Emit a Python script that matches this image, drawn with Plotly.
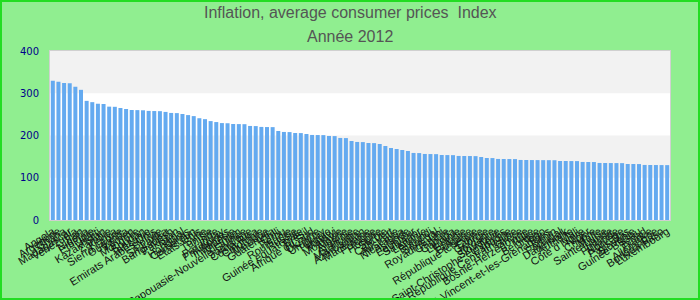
import plotly.graph_objects as go

countries = [
    "Angola", "Argentine", "Ghana", "Madagascar", "Venezuela", "Iran", "Nigeria", "Ethiopie", "Haïti", "Kazakhstan",
    "Zambie", "Kenya", "Sierra Leone", "Ouganda", "Yémen", "Mongolie", "Soudan", "Tanzanie", "Emirats Arabes Unis", "Bolivie",
    "Sri Lanka", "Bangladesh", "Pakistan", "Népal", "Honduras", "Cameroun", "Etats-Unis", "Syrie", "Tunisie", "Inde",
    "Paraguay", "Philippines", "Indonésie", "Vietnam", "Papouasie-Nouvelle-Guinée", "Jamaïque", "Costa Rica", "Colombie", "Mexique", "Guatemala",
    "Chili", "Pérou", "Roumanie", "Russie", "Guinée équatoriale", "Brésil", "Afrique du Sud", "Ukraine", "Uruguay", "Turquie",
    "Malawi", "Moldavie", "Algérie", "Arménie", "Mauritanie", "Azerbaïdjan", "Macédoine", "Pologne", "Hongrie", "Serbie",
    "Cap-Vert", "Australie", "Nicaragua", "Islande", "Equateur", "Salvador", "Lettonie", "Burundi", "Sénégal", "Royaume-Uni",
    "Gambie", "Canada", "Lituanie", "Estonie", "Bulgarie", "République tchèque", "Corée", "Géorgie", "Jordanie", "Slovaquie",
    "Saint-Christophe-et-Niévès", "Espagne", "République Centrafricaine", "Grèce", "Bosnie-Herzégovine", "Italie", "Belgique", "Togo", "Saint-Vincent-et-les-Grenadines", "Bénin",
    "Portugal", "Danemark", "Autriche", "Mali", "Côte d'Ivoire", "Niger", "Chypre", "Malte", "Sainte-Lucie", "Irlande",
    "Finlande", "Norvège", "Pays-Bas", "Slovénie", "Guinée-Bissau", "Tchad", "France", "Allemagne", "Burkina Faso", "Luxembourg",
]

values = [
    329.4, 327.1, 324.2, 323.8, 315.3, 308.1, 282.0, 278.9, 275.2, 274.6,
    268.3, 267.9, 265.1, 262.8, 260.4, 260.1, 259.7, 258.2, 257.9, 257.6,
    255.8, 253.4, 253.0, 250.9, 248.3, 245.9, 240.9, 238.7, 234.1, 231.8,
    229.4, 229.0, 227.3, 227.0, 226.8, 222.6, 222.3, 220.3, 220.0, 219.8,
    210.6, 208.4, 208.1, 206.0, 205.7, 203.6, 201.3, 201.1, 200.9, 198.9,
    198.6, 194.2, 193.9, 187.0, 184.7, 184.4, 182.3, 182.0, 179.9, 175.1,
    170.4, 168.0, 165.7, 163.3, 158.7, 158.4, 156.3, 156.1, 155.9, 153.9,
    153.7, 153.5, 151.6, 151.5, 151.4, 151.2, 149.1, 146.8, 146.6, 144.5,
    144.4, 144.3, 144.2, 142.1, 142.0, 141.9, 141.8, 141.7, 141.6, 141.5,
    139.7, 139.6, 139.5, 139.4, 137.4, 137.3, 137.2, 135.0, 134.9, 134.8,
    134.7, 134.6, 132.6, 132.5, 132.4, 130.3, 130.2, 130.1, 130.0, 129.9,
]

title_line1 = "Inflation, average consumer prices  Index"
title_line2 = "Année 2012"
y_ticks = [0, 100, 200, 300, 400]

fig = go.Figure(go.Bar(x=countries, y=values, marker=dict(color="#64AAF0", line=dict(width=0))))

# plot geometry
L, R, T, B = 50, 30, 51, 80
W, H = 700, 300
pw, ph = W - L - R, H - T - B

shapes = []
for lo, hi in [(100, 200), (300, 400)]:
    shapes.append(dict(type="rect", xref="paper", yref="y", x0=0, x1=1, y0=lo, y1=hi,
                       fillcolor="#F2F2F2", line=dict(width=0), layer="below"))
# outer border
def px(X):
    return (X - L) / pw
def py(Y):
    return (H - B - Y) / ph
shapes.append(dict(type="rect", xref="paper", yref="paper", x0=px(1), x1=px(699), y0=py(1), y1=py(299),
                   line=dict(color="#22DD22", width=2), fillcolor="rgba(0,0,0,0)", layer="above"))

fig.update_layout(
    width=W, height=H,
    margin=dict(l=L, r=R, t=T, b=B),
    paper_bgcolor="#90EE90",
    plot_bgcolor="#FFFFFF",
    bargap=0.29,
    showlegend=False,
    shapes=shapes,
    font=dict(family="Liberation Sans, Arial, sans-serif"),
    annotations=[
        dict(text=title_line1, xref="paper", yref="paper", x=px(350), y=py(13), xanchor="center", yanchor="middle",
             showarrow=False, font=dict(size=16, color="#555555", family="Liberation Sans, Arial, sans-serif")),
        dict(text=title_line2, xref="paper", yref="paper", x=px(350), y=py(36.5), xanchor="center", yanchor="middle",
             showarrow=False, font=dict(size=16, color="#555555", family="Liberation Sans, Arial, sans-serif")),
    ],
)
fig.update_xaxes(
    type="category", tickmode="linear", tick0=0, dtick=1, tickangle=-32,
    tickfont=dict(size=11, color="#111111", family="Liberation Sans, Arial, sans-serif"),
    showline=True, linecolor="#D0D0D0", linewidth=1, mirror=True, ticks="", showgrid=False,
    automargin=False,
)
fig.update_yaxes(
    range=[0, 400], tickvals=y_ticks, ticktext=[str(v) for v in y_ticks],
    tickfont=dict(size=10, color="#00008B", family="DejaVu Sans, Verdana, sans-serif"),
    showline=True, linecolor="#D0D0D0", linewidth=1, mirror=True, showgrid=False, zeroline=False,
    ticks="outside", ticklen=8, tickcolor="rgba(0,0,0,0)", automargin=False,
)

fig.write_html("out.html")
